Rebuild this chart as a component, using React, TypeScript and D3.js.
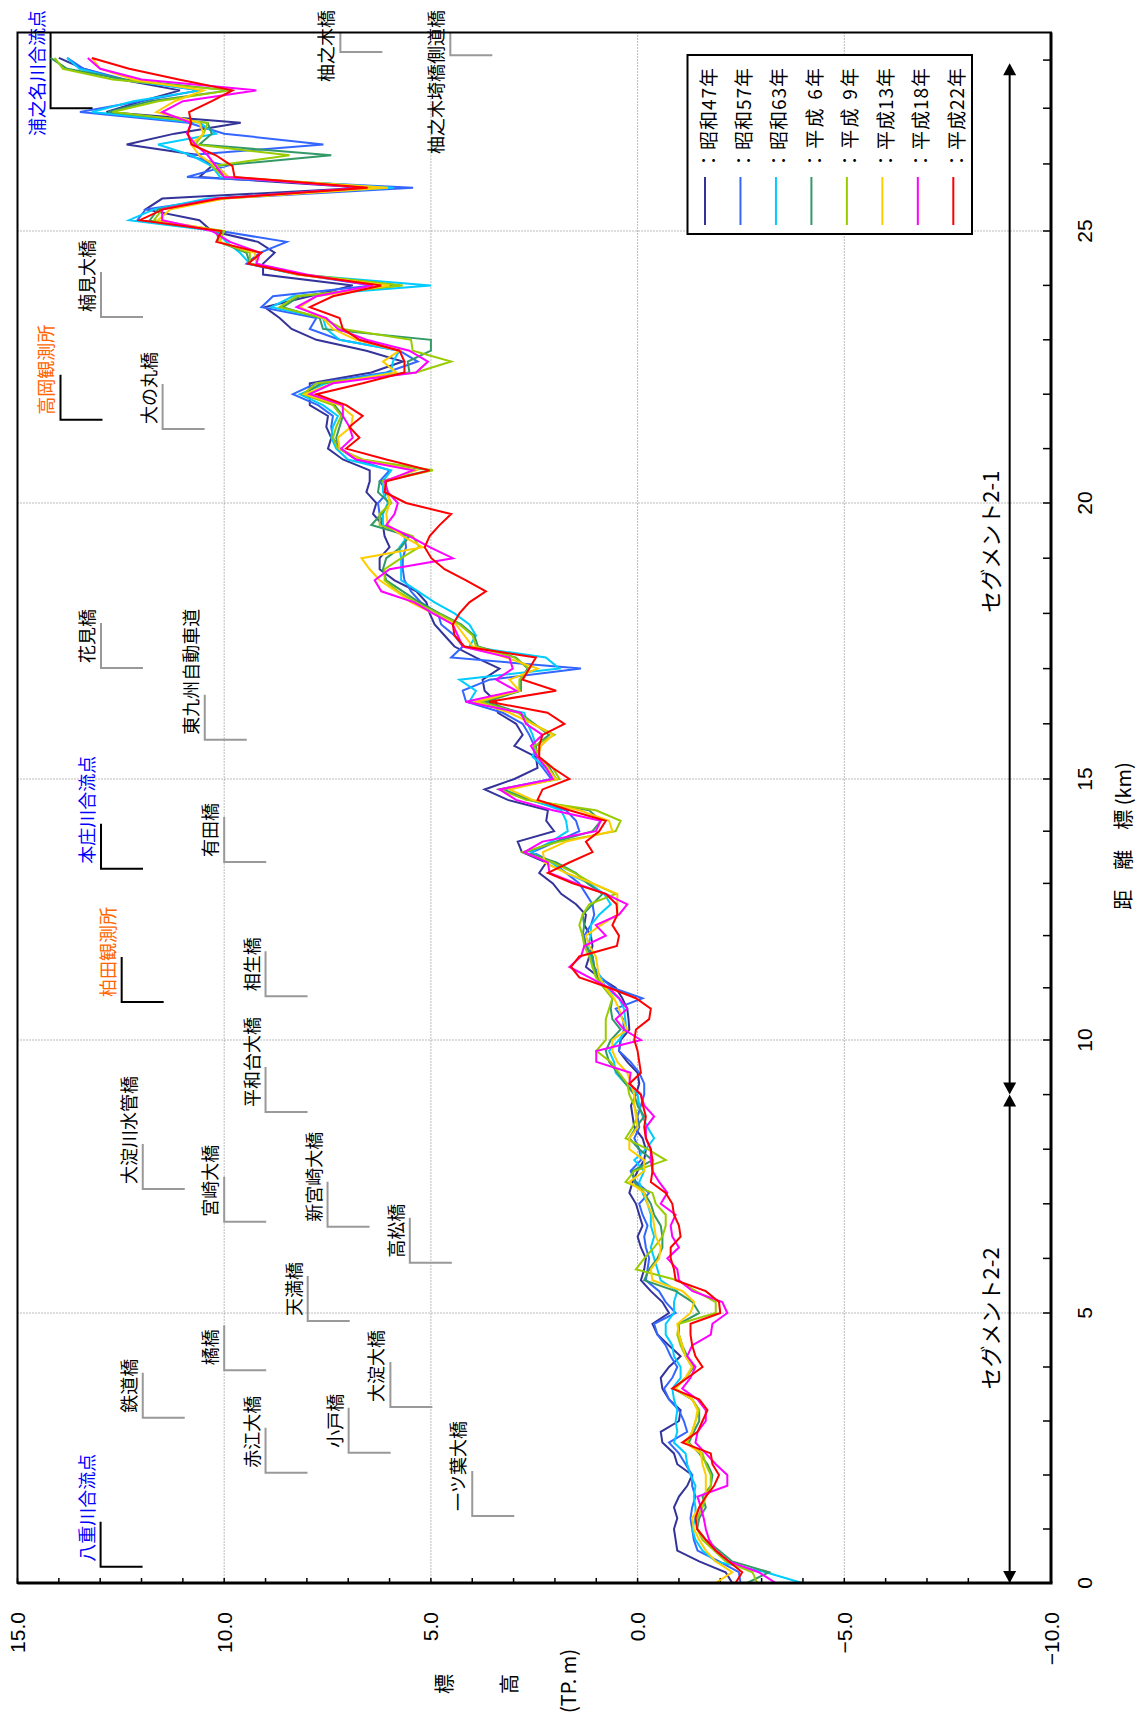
import React from 'react'
import * as d3 from 'd3'

const W = 1138
const H = 1725

// 距離標 0.2km ピッチ
const stations = d3.range(0, 142).map(i => Math.round(i * 2) / 10)

const years = ['昭和47年', '昭和57年', '昭和63年', '平成 6年', '平成 9年', '平成13年', '平成18年', '平成22年']
const colors = ['#333399', '#3366ff', '#00ccff', '#339966', '#99cc00', '#ffcc00', '#ff00ff', '#ff0000']

const s47 = [
  -2.29, -2.13, -1.49, -0.96, -0.92, -0.88, -0.96, -0.88, -1.0, -1.2, -1.32, -0.96, -0.88, -0.6, -0.56, -1.0, -1.04, -0.76, -0.6, -0.56, -0.76, -1.04, -0.76, -0.48, -0.36, -0.76,
  -0.6, -0.32, -0.08, -0.16, -0.2, -0.08, 0, -0.12, -0.04, 0.04, 0.2, 0.12, 0, -0.16, -0.2, -0.12, 0.08, 0.12, 0.16, 0.04, -0.04, 0, 0.25, 0.45, 0.41,
  0.2, 0.22, 0.25, 0.37, 0.53, 0.93, 1.25, 1.17, 1.09, 1.13, 1.29, 1.25, 1.49, 1.85, 2.05, 2.38, 2.21, 2.8, 2.9, 2.02, 2.21, 2.17, 3.14, 3.7, 2.98, 2.42, 2.46,
  2.98, 2.78, 2.94, 3.38, 3.42, 3.7, 3.75, 3.34, 3.91, 4.43, 4.67, 4.91, 5.03, 5.11, 5.35, 5.88, 6.24, 6.24, 6.0, 6.12, 6.16, 6.4, 6.32, 6.56, 6.48,
  6.48, 7.13, 7.49, 7.41, 7.53, 7.49, 7.93, 7.93, 7.93, 6.44, 5.68, 6.56, 7.77, 8.37, 8.66, 9.02, 7.93, 6.89, 9.06, 9.06, 8.78, 9.18,
  10.3, 10.6, 11.9, 11.5, 6.6, 10.6, 10.3, 10.6, 12.36, 11.2, 9.6, 12.85, 12.0, 11.07, 12.5, 13.4, 14.0,
]
const s57 = [
  -2.49, -2.45, -1.97, -1.45, -1.36, -1.32, -1.28, -1.32, -1.4, -1.32, -1.32, -1.16, -1.0, -0.76, -1.2, -1.12, -1.0, -0.76, -0.64, -0.84, -0.96, -0.8, -0.68, -0.48, -0.4, -0.92,
  -0.68, -0.52, -0.2, -0.24, -0.28, -0.2, -0.16, -0.24, -0.12, -0.04, -0.28, 0.04, 0.17, -0.08, -0.04, 0.08, -0.04, 0, -0.08, -0.16, -0.16, -0.04, 0.17, 0.45, 0.41,
  0.33, 0.35, 0.53, -0.12, 0.61, 0.89, 1.05, 1.09, 1.25, 1.29, 1.13, 1.05, 1.09, 1.25, 1.41, 1.73, 2.05, 2.54, 1.97, 1.41, 1.49, 1.73, 2.62, 3.34, 2.09, 2.29, 2.5,
  2.5, 2.62, 2.78, 3.26, 4.15, 4.23, 3.58, 1.37, 4.51, 4.23, 4.43, 4.75, 4.83, 5.24, 5.48, 5.64, 5.68, 5.68, 5.6, 5.64, 6.16, 6.24, 6.28, 6.04, 6.24,
  6.0, 6.81, 7.21, 7.37, 7.41, 7.37, 7.73, 8.34, 7.77, 6.08, 5.32, 5.76, 7.21, 7.93, 7.77, 9.1, 8.82, 6.4, 8.17, 9.46, 9.14, 8.49,
  10.1, 12.1, 11.9, 10.1, 5.43, 10.9, 9.95, 10.9, 7.6, 10.0, 10.87, 13.49, 12.04, 10.6, 12.4, 13.4, 13.8,
]
const s63 = [
  -3.98, -3.1, -1.89, -1.57, -1.4, -1.32, -1.4, -1.4, -1.36, -1.4, -1.28, -1.2, -1.16, -0.88, -0.96, -0.92, -0.96, -0.88, -0.84, -1.04, -1.04, -0.88, -0.84, -0.68, -0.68, -0.88,
  -0.88, -0.96, -0.56, -0.48, -0.4, -0.32, -0.4, -0.32, -0.32, -0.24, -0.12, -0.04, -0.16, 0.08, -0.2, -0.4, -0.24, -0.12, -0.04, 0, 0.29, 0.53, 0.57, 0.69, 0.45,
  0.27, 0.3, 0.33, 0.45, 0.77, 0.89, 1.09, 1.13, 1.21, 1.13, 1.13, 0.93, 0.65, 0.81, 1.17, 1.73, 2.09, 2.58, 2.09, 1.69, 1.73, 1.85, 2.58, 3.26, 2.05, 2.21, 2.54,
  2.46, 2.54, 2.66, 2.74, 4.07, 3.91, 4.31, 1.89, 2.22, 4.07, 3.91, 4.07, 4.43, 4.91, 5.31, 5.72, 5.72, 5.72, 5.76, 5.56, 6.16, 6.16, 6.04, 6.16, 6.16,
  5.96, 7.01, 7.29, 7.41, 7.37, 7.25, 7.61, 8.17, 7.53, 5.96, 5.92, 5.76, 7.21, 7.53, 7.61, 8.86, 8.34, 5.0, 8.25, 9.38, 9.62, 9.95,
  10.2, 12.3, 11.7, 10.4, 5.9, 10.1, 10.3, 10.8, 11.6, 10.2, 10.6, 13.2, 12.2, 10.58, 12.5, 13.5, 13.8,
]
const h06 = [
  -2.65, -3.18, -2.29, -1.97, -1.65, -1.44, -1.49, -1.65, -1.57, -1.77, -1.81, -1.69, -1.49, -1.24, -1.36, -1.49, -1.49, -1.32, -0.88, -1.16, -1.36, -1.2, -1.08, -1.0, -1.0, -1.49,
  -1.33, -0.92, -0.16, -0.28, -0.48, -0.6, -0.6, -0.56, -0.4, -0.32, -0.16, 0.08, 0.12, -0.36, -0.04, 0.2, 0.04, -0.16, 0, 0.08, 0.29, 0.49, 0.69, 0.77, 0.65,
  0.41, 0.61, 0.65, 0.61, 0.81, 0.97, 1.05, 1.09, 1.25, 1.33, 1.29, 1.33, 1.09, 0.85, 1.21, 1.49, 1.97, 2.7, 1.97, 1.09, 0.89, 1.17, 2.62, 3.26, 1.97, 2.13, 2.42,
  2.46, 2.14, 2.5, 2.86, 3.67, 2.82, 2.82, 2.66, 2.94, 3.86, 3.95, 4.27, 4.79, 5.28, 5.68, 6.08, 6.16, 6.08, 5.72, 5.52, 6.44, 6.2, 6.0, 6.28, 6.24,
  5.03, 6.73, 7.21, 7.29, 7.21, 7.13, 7.33, 8.09, 7.65, 5.52, 5.56, 5.0, 5.0, 7.61, 7.69, 8.58, 8.17, 5.76, 8.17, 9.38, 9.46, 10.11,
  10.2, 11.8, 11.6, 10.2, 6.5, 9.9, 10.2, 7.41, 10.6, 10.3, 10.4, 12.8, 11.8, 9.87, 12.4, 13.8, 14.2,
]
const h09 = [
  -2.89, -2.78, -2.13, -1.85, -1.57, -1.44, -1.44, -1.57, -1.65, -1.77, -1.77, -1.65, -1.57, -1.2, -1.32, -1.4, -1.49, -1.32, -0.88, -1.16, -1.32, -1.16, -1.04, -0.96, -1.0, -1.89,
  -1.89, -1.41, -0.96, 0.04, -0.16, -0.4, -0.6, -0.68, -0.68, -0.44, -0.36, 0.29, 0.08, -0.68, -0.24, 0.29, 0.12, 0, 0.08, 0.2, 0.25, 0.45, 0.65, 1.0, 0.77,
  0.77, 0.77, 0.69, 0.61, 0.81, 1.01, 1.09, 1.17, 1.29, 1.33, 1.41, 1.33, 1.17, 0.53, 1.09, 1.53, 2.05, 2.78, 1.89, 0.53, 0.41, 1.01, 2.7, 3.34, 1.89, 2.05, 2.38,
  2.5, 2.01, 2.54, 2.9, 3.82, 2.86, 2.86, 2.62, 2.98, 3.91, 3.99, 4.31, 4.83, 5.36, 5.8, 6.12, 6.12, 5.72, 5.28, 5.44, 6.24, 6.24, 5.96, 6.08, 6.16,
  4.95, 6.65, 7.25, 7.37, 7.29, 7.17, 7.37, 8.09, 7.77, 5.36, 4.51, 5.44, 5.48, 7.13, 7.61, 8.66, 8.25, 5.68, 8.09, 9.38, 9.38, 10.11,
  10.0, 11.7, 11.5, 10.0, 6.4, 10.0, 10.3, 8.42, 10.7, 10.5, 10.4, 12.7, 11.6, 9.87, 12.7, 13.9, 14.1,
]
const h13 = [
  -1.89, -2.29, -1.89, -1.65, -1.49, -1.36, -1.32, -1.49, -1.65, -1.65, -1.65, -1.57, -1.53, -1.16, -1.32, -1.4, -1.45, -1.32, -0.92, -1.16, -1.32, -1.16, -1.08, -1.0, -0.96, -1.28,
  -1.37, -1.09, -0.36, -0.32, -0.52, -0.56, -0.44, -0.4, -0.36, -0.24, -0.16, 0.2, -0.16, -0.16, 0.2, 0.2, 0, 0.04, 0.08, 0.08, 0.16, 0.25, 0.49, 0.61, 0.61,
  0.25, 0.37, 0.45, 0.57, 0.77, 0.93, 0.97, 1.01, 1.17, 1.25, 0.89, 0.49, 0.49, 0.49, 1.09, 1.73, 2.25, 2.29, 1.73, 0.61, 0.69, 1.41, 2.54, 3.1, 1.97, 2.17, 2.42,
  2.34, 2.05, 2.54, 3.1, 3.91, 2.86, 3.1, 2.42, 3.18, 3.99, 4.19, 4.39, 4.95, 5.48, 5.84, 6.24, 6.48, 6.68, 5.2, 5.68, 6.04, 6.08, 6.0, 6.04, 6.12,
  5.36, 6.73, 7.21, 7.25, 6.93, 6.89, 7.21, 8.05, 7.37, 5.84, 6.16, 5.76, 6.81, 7.37, 7.61, 8.17, 7.77, 6.0, 8.25, 9.22, 9.26, 10.11,
  10.1, 11.6, 11.3, 10.0, 6.04, 9.9, 10.2, 10.6, 10.8, 10.5, 10.6, 11.64, 11.2, 10.5, 12.2, 13.0, 13.2,
]
const h18 = [
  -3.34, -2.93, -2.21, -1.89, -1.73, -1.65, -1.6, -1.53, -1.45, -2.17, -2.17, -1.89, -1.65, -1.4, -1.45, -1.65, -1.65, -1.45, -1.08, -1.28, -1.4, -1.2, -1.32, -1.77, -1.81, -2.17,
  -2.05, -1.33, -1.0, -0.96, -0.72, -1.0, -0.84, -0.8, -0.92, -0.56, -0.72, -0.52, -0.36, -0.32, -0.32, -0.2, -0.2, -0.4, -0.16, -0.08, 0.2, 0.17, 1.0, 1.0, -0.08,
  0.33, 0.53, 0.25, 0.45, 0.69, 1.17, 1.65, 1.37, 1.29, 0.77, 1.01, 0.45, 0.25, 0.77, 1.49, 2.13, 2.17, 2.74, 2.3, 1.01, 0.89, 2.05, 2.94, 3.34, 2.05, 2.21, 2.42,
  2.58, 2.3, 2.7, 2.82, 4.15, 2.94, 3.42, 3.02, 3.1, 4.23, 4.35, 4.47, 4.95, 5.4, 6.2, 6.36, 6.0, 4.47, 5.03, 5.52, 6.08, 5.88, 5.8, 6.04, 6.12,
  5.44, 6.81, 7.17, 6.89, 6.97, 7.13, 7.13, 7.93, 7.37, 5.36, 5.07, 5.52, 6.56, 7.25, 7.53, 8.25, 7.77, 6.4, 8.01, 9.22, 9.14, 9.86,
  10.3, 11.5, 11.5, 10.2, 6.6, 10.0, 10.2, 10.4, 10.7, 10.9, 10.8, 11.5, 11.0, 9.22, 12.0, 13.0, 13.3,
]
const h22 = [
  -2.37, -2.53, -2.21, -1.89, -1.65, -1.44, -1.4, -1.49, -1.65, -1.85, -1.97, -1.81, -1.77, -1.08, -1.45, -1.57, -1.69, -1.49, -0.84, -1.21, -1.57, -1.4, -1.32, -1.28, -1.28, -2.0,
  -1.97, -1.65, -0.92, -0.88, -0.8, -0.8, -1.04, -1.0, -0.88, -0.84, -0.68, -0.32, -0.36, -0.36, -0.32, -0.2, -0.16, -0.2, -0.13, -0.08, 0.2, -0.08, -0.04, 0, 0.08,
  0.04, -0.28, -0.32, 0.04, 0.69, 1.41, 1.61, 1.41, 0.5, 0.45, 0.61, 0.49, 0.51, 0.77, 1.57, 2.17, 1.65, 1.09, 1.25, 0.93, 0.77, 1.65, 2.42, 2.3, 1.65, 2.05, 2.38,
  2.38, 2.3, 1.77, 2.18, 3.59, 1.97, 2.78, 2.62, 2.46, 4.19, 4.43, 4.47, 4.31, 4.07, 3.67, 4.15, 4.67, 4.99, 5.15, 5.03, 4.79, 4.51, 5.6, 6.12, 6.08,
  5.03, 6.08, 7.05, 6.73, 6.97, 6.65, 7.05, 7.77, 6.65, 5.64, 5.64, 5.76, 6.73, 7.13, 7.21, 7.93, 7.37, 6.2, 8.17, 9.42, 9.1, 10.19,
  10.07, 12.04, 11.48, 10.11, 6.53, 9.75, 9.8, 10.2, 10.79, 10.88, 10.8, 10.85, 10.3, 9.8, 11.1, 12.3, 13.2,
]
const series = [s47, s57, s63, h06, h09, h13, h18, h22]

const elevTicks = [15, 10, 5, 0, -5, -10]
const kmTicks = [0, 5, 10, 15, 20, 25]
// 右軸の小目盛 (上流側は不等間隔)
const kmMinor = [...d3.range(0, 26), 26.24, 27.27, 28.16]

// 縦断図の目印 (km, 標高)
const landmarks = [
  { name: '八重川合流点', km: 0.3, elev: 12.99, kind: 'confluence' },
  { name: '本庄川合流点', km: 13.28, elev: 12.98, kind: 'confluence' },
  { name: '浦之名川合流点', km: 27.27, elev: 14.2, kind: 'confluence', top: true },
  { name: '高岡観測所', km: 21.53, elev: 13.96, kind: 'station' },
  { name: '柏田観測所', km: 10.73, elev: 12.48, kind: 'station' },
  { name: '柚之木橋', km: 28.31, elev: 7.19, kind: 'bridge', top: true },
  { name: '柚之木埼橋側道橋', km: 28.25, elev: 4.53, kind: 'bridge', top: true },
  { name: '楠見大橋', km: 23.42, elev: 12.98, kind: 'bridge' },
  { name: '大の丸橋', km: 21.36, elev: 11.49, kind: 'bridge' },
  { name: '花見橋', km: 17.01, elev: 12.98, kind: 'bridge' },
  { name: '東九州自動車道', km: 15.71, elev: 10.47, kind: 'bridge' },
  { name: '有田橋', km: 13.41, elev: 10.0, kind: 'bridge' },
  { name: '相生橋', km: 10.84, elev: 9.0, kind: 'bridge' },
  { name: '平和台大橋', km: 8.68, elev: 9.0, kind: 'bridge' },
  { name: '大淀川水管橋', km: 7.27, elev: 11.97, kind: 'bridge' },
  { name: '宮崎大橋', km: 6.67, elev: 10.0, kind: 'bridge' },
  { name: '新宮崎大橋', km: 6.58, elev: 7.5, kind: 'bridge' },
  { name: '高松橋', km: 5.92, elev: 5.51, kind: 'bridge' },
  { name: '天満橋', km: 4.85, elev: 7.98, kind: 'bridge' },
  { name: '橘橋', km: 3.94, elev: 10.0, kind: 'bridge' },
  { name: '大淀大橋', km: 3.26, elev: 5.98, kind: 'bridge' },
  { name: '鉄道橋', km: 3.06, elev: 11.97, kind: 'bridge' },
  { name: '赤江大橋', km: 2.04, elev: 9.0, kind: 'bridge' },
  { name: '小戸橋', km: 2.41, elev: 6.99, kind: 'bridge' },
  { name: '一ツ葉大橋', km: 1.24, elev: 4.0, kind: 'bridge' },
]

const segments = [
  { name: 'セグメント2-2', from: 0, to: 9.0, labelKm: 4.9 },
  { name: 'セグメント2-1', from: 9.0, to: 28.1, labelKm: 19.3 },
]

const textColor: Record<string, string> = { confluence: '#0000ff', station: '#ff6600', bridge: '#000000' }
const jp = '"Noto Sans CJK JP", "Noto Sans", sans-serif'
const num = '"Liberation Sans Narrow", "Liberation Sans", Arial, sans-serif'

function VText({ x, y, anchor = 'middle', size = 18, color = '#000', font = jp, children, len }: any) {
  return (
    <text
      transform={`translate(${x},${y}) rotate(-90)`}
      textAnchor={anchor}
      dominantBaseline="central"
      fontSize={size}
      fontFamily={font}
      fill={color}
      textLength={len}
      lengthAdjust={len ? 'spacing' : undefined}
    >
      {children}
    </text>
  )
}

export default function App() {
  const x = d3.scaleLinear().domain([15, -10]).range([17.5, 1051])
  const y = d3.scaleLinear().domain([0, 5, 10, 15, 20, 25, 28.67]).range([1583, 1313, 1040, 779, 503, 231, 32.5])

  const left = x(15), right = x(-10), top = y(28.67), bottom = y(0)

  const line = d3.line<number>().x(d => x(d)).y((_, i) => y(stations[i]))

  const minorElev = d3.range(-10, 16)

  const brH = 45
  const brW = 42

  const legX = d3.scalePoint<number>().domain(d3.range(8)).range([705, 953.3])

  return (
    <div style={{ position: 'absolute', left: 0, top: 0 }}>
      <svg width={W} height={H} style={{ display: 'block', background: '#fff' }}>
        {/* grid */}
        {elevTicks.slice(1, -1).map(e => (
          <line key={'ge' + e} x1={x(e)} x2={x(e)} y1={top} y2={bottom} stroke="#777" strokeWidth={1} strokeDasharray="1,2" />
        ))}
        {kmTicks.slice(1).map(k => (
          <line key={'gk' + k} x1={left} x2={right} y1={y(k)} y2={y(k)} stroke="#777" strokeWidth={1} strokeDasharray="1,2" />
        ))}

        {/* ticks */}
        {minorElev.map(e => (
          <line key={'te' + e} x1={x(e)} x2={x(e)} y1={bottom} y2={bottom - 5} stroke="#000" strokeWidth={1.5} />
        ))}
        {kmMinor.map(k => (
          <line key={'tk' + k} x1={right} x2={right - 8} y1={y(k)} y2={y(k)} stroke="#000" strokeWidth={1.5} />
        ))}

        {/* landmarks */}
        {landmarks.map(l => {
          const cx = x(l.elev)
          const cy = y(l.km)
          const ty = Math.max(top, cy - brH)
          const stroke = l.kind === 'bridge' ? '#999' : '#000'
          return (
            <g key={l.name}>
              <path d={`M${cx},${l.top && l.kind === 'confluence' ? top : ty}V${cy}H${cx + brW}`} fill="none" stroke={stroke} strokeWidth={2} />
              <VText x={cx - 15} y={l.top ? 10 : cy - 5} anchor={l.top ? 'end' : 'start'} color={textColor[l.kind]}>
                {l.name}
              </VText>
            </g>
          )
        })}

        {/* profiles */}
        {series.map((s, i) => (
          <path key={years[i]} d={line(s) || ''} fill="none" stroke={colors[i]} strokeWidth={2} strokeLinejoin="miter" />
        ))}

        {/* frame */}
        <rect x={left} y={top} width={right - left} height={bottom - top} fill="none" stroke="#000" strokeWidth={2} />
        <line x1={left} x2={right + 1.5} y1={bottom} y2={bottom} stroke="#000" strokeWidth={3} />
        <line x1={right} x2={right} y1={top} y2={bottom} stroke="#000" strokeWidth={3} />

        {/* segments */}
        {segments.map(s => {
          const sx = x(-9)
          const y0 = y(s.from)
          const y1 = y(s.to)
          return (
            <g key={s.name}>
              <line x1={sx} x2={sx} y1={y0 - 10} y2={y1 + 10} stroke="#000" strokeWidth={2} />
              <path d={`M${sx},${y0}l-6.5,-12h13z`} fill="#000" />
              <path d={`M${sx},${y1}l-6.5,12h13z`} fill="#000" />
              <VText x={x(-8.5)} y={y(s.labelKm)} size={22}>{s.name}</VText>
            </g>
          )
        })}

        {/* legend */}
        <rect x={687.5} y={55} width={284.5} height={179} fill="#fff" stroke="#000" strokeWidth={2} />
        {years.map((yr, i) => (
          <g key={'lg' + yr}>
            <line x1={legX(i)} x2={legX(i)} y1={177} y2={225} stroke={colors[i]} strokeWidth={2} />
            <VText x={legX(i)! + 2} y={170} anchor="start" size={19} len={102}>{'：' + yr}</VText>
          </g>
        ))}

        {/* axis labels */}
        {elevTicks.map(e => (
          <VText key={'le' + e} x={x(e)} y={1612} anchor="end" size={21} font={num}>
            {(e < 0 ? '−' : '') + Math.abs(e).toFixed(1)}
          </VText>
        ))}
        {kmTicks.map(k => (
          <VText key={'lk' + k} x={1084} y={y(k)} size={21} font={num}>{k}</VText>
        ))}
        <VText x={1122} y={836} size={20}>距　離　標 (km)</VText>
        <VText x={443} y={1684} size={20}>標</VText>
        <VText x={508} y={1684} size={20}>高</VText>
        <VText x={567} y={1681} size={20}>(TP. m)</VText>
      </svg>
    </div>
  )
}
